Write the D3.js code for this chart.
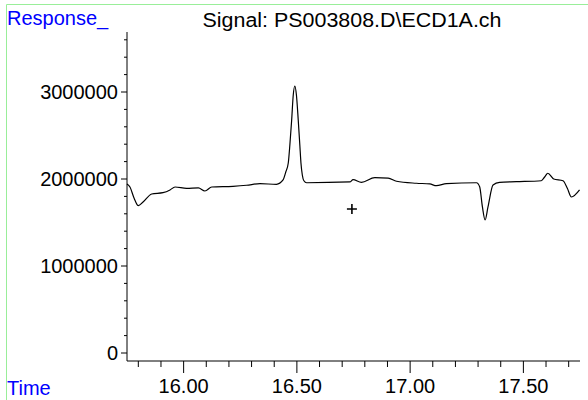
<!DOCTYPE html>
<html>
  <head>
    <script src="https://cdnjs.cloudflare.com/ajax/libs/d3/7.8.5/d3.min.js"></script>
    <style>
      body { margin: 0; background: #fff; }
      text { font-family: "Liberation Sans", Arial, sans-serif; }
    </style>
  </head>
  <body>
    <div id="vis"></div>
    <script type="text/javascript">

        // chromatogram trace (min, counts)
        const time = [15.750, 15.763, 15.781, 15.800, 15.821, 15.859, 15.909, 15.940, 15.962, 16.013,
                      16.065, 16.094, 16.124, 16.218, 16.278, 16.337, 16.410, 16.439, 16.451, 16.462,
                      16.469, 16.477, 16.484, 16.491, 16.498, 16.506, 16.513, 16.518, 16.524, 16.531,
                      16.543, 16.734, 16.748, 16.785, 16.844, 16.903, 16.940, 17.028, 17.087, 17.116,
                      17.160, 17.293, 17.307, 17.319, 17.331, 17.344, 17.366, 17.395, 17.469, 17.579,
                      17.594, 17.608, 17.634, 17.675, 17.694, 17.712, 17.748];
        const response = [1943000, 1908000, 1782000, 1693000, 1736000, 1828000, 1843000, 1874000, 1908000, 1893000,
                          1897000, 1862000, 1908000, 1916000, 1928000, 1946000, 1939000, 1989000, 2080000, 2184000,
                          2391000, 2678000, 2966000, 3069000, 2966000, 2678000, 2391000, 2184000, 2046000, 1980000,
                          1957000, 1966000, 1992000, 1962000, 2015000, 2011000, 1974000, 1951000, 1943000, 1923000,
                          1946000, 1957000, 1911000, 1682000, 1529000, 1682000, 1931000, 1962000, 1969000, 1980000,
                          2023000, 2066000, 2000000, 1980000, 1893000, 1793000, 1874000];

        const xTicks = [16.0, 16.5, 17.0, 17.5];
        const yTicks = [0, 1000000, 2000000, 3000000];
        const marker = [16.743, 1655000];
        const title = "Signal: PS003808.D\\ECD1A.ch";

        const W = 588, H = 400;
        const svg = d3.select("#vis").append("svg")
            .attr("width", W)
            .attr("height", H);

        // green frame
        svg.append("path")
            .attr("d", "M6.5," + H + "V4.5H" + W)
            .attr("fill", "none")
            .attr("stroke", "#99ee99")
            .attr("stroke-width", 1);

        const x = d3.scaleLinear().domain([15.75, 17.75]).range([127, 580]);
        const y = d3.scaleLinear().domain([0, 3000000]).range([353, 92]);
        const yTop = 32, yBot = 361;

        // y axis
        const gy = svg.append("g").attr("transform", "translate(127,0)");
        gy.append("line").attr("y1", yTop).attr("y2", yBot).attr("stroke", "#000");
        d3.range(0, 3700000, 200000).forEach(v => {
            const major = v % 1000000 === 0;
            gy.append("line")
                .attr("x1", major ? -6 : -3).attr("x2", 0)
                .attr("y1", y(v)).attr("y2", y(v))
                .attr("stroke", "#000");
        });
        gy.selectAll("text.yl").data(yTicks).enter().append("text")
            .attr("x", -9).attr("y", d => y(d)).attr("dy", "0.36em")
            .attr("text-anchor", "end").attr("font-size", 20)
            .text(d => d);

        // x axis
        const gx = svg.append("g").attr("transform", "translate(0," + yBot + ")");
        gx.append("line").attr("x1", 127).attr("x2", 580).attr("stroke", "#000");
        d3.range(15.8, 17.75, 0.1).forEach(t => {
            const major = Math.abs(t * 2 - Math.round(t * 2)) < 1e-6;
            gx.append("line")
                .attr("x1", x(t)).attr("x2", x(t))
                .attr("y1", 0).attr("y2", major ? 12 : 6)
                .attr("stroke", "#000");
        });
        gx.selectAll("text.xl").data(xTicks).enter().append("text")
            .attr("x", d => x(d)).attr("y", 32)
            .attr("text-anchor", "middle").attr("font-size", 20)
            .text(d => d.toFixed(2));

        // trace
        const line = d3.line()
            .x((d, i) => x(time[i]))
            .y((d, i) => y(response[i]))
            .curve(d3.curveMonotoneX);
        svg.append("path")
            .datum(response)
            .attr("d", line)
            .attr("fill", "none")
            .attr("stroke", "#000")
            .attr("stroke-width", 1.2);

        // marker
        const mx = x(marker[0]), my = y(marker[1]);
        svg.append("path")
            .attr("d", `M${mx - 5},${my}H${mx + 5}M${mx},${my - 5}V${my + 5}`)
            .attr("stroke", "#000").attr("stroke-width", 1.6);

        // labels
        svg.append("text").attr("x", 7).attr("y", 25)
            .attr("font-size", 20).attr("fill", "#0000ff").text("Response_");
        svg.append("text").attr("x", 7).attr("y", 395)
            .attr("font-size", 20).attr("fill", "#0000ff").text("Time");
        svg.append("text").attr("x", 352).attr("y", 27)
            .attr("text-anchor", "middle").attr("font-size", 20)
            .attr("textLength", 299).attr("lengthAdjust", "spacingAndGlyphs")
            .text(title);

    </script>
  </body>
</html>
